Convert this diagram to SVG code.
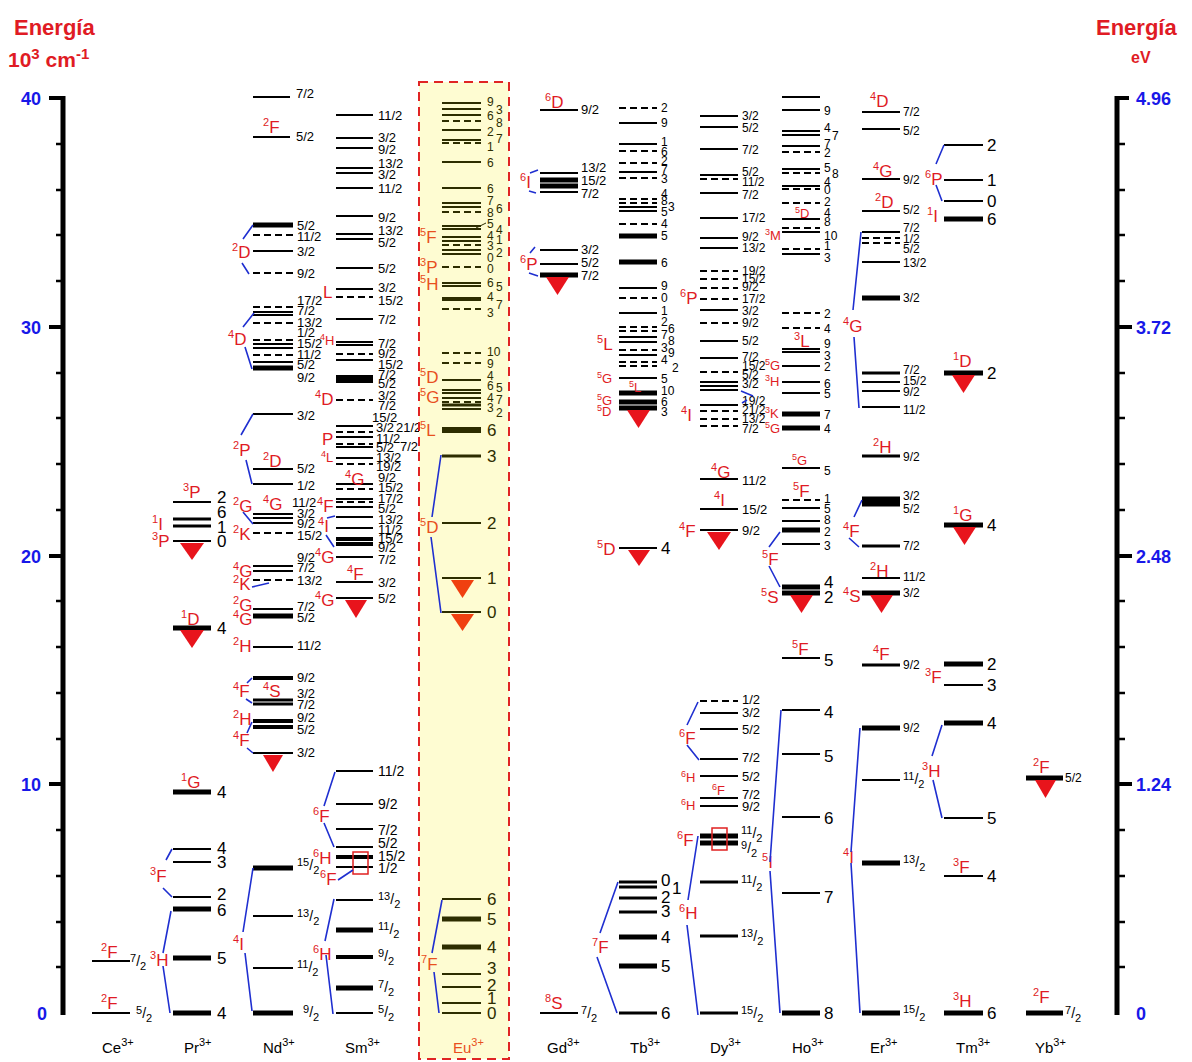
<svg xmlns="http://www.w3.org/2000/svg" width="1192" height="1062" viewBox="0 0 1192 1062">
<style>
text{font-family:"Liberation Sans",Arial,sans-serif;fill:#000}
.k{stroke:#000;stroke-width:2;fill:none}
.k3{stroke:#000;stroke-width:3;fill:none}
.k4{stroke:#000;stroke-width:4;fill:none}
.k5{stroke:#000;stroke-width:5;fill:none}
.kd{stroke:#000;stroke-width:2;stroke-dasharray:7 4;fill:none}
.e{stroke:#2d2d00}
.b{stroke:#1f2fd0;stroke-width:1.6;fill:none}
text.r,.r{fill:#e01b24;font-size:17px}
text.rs{fill:#e01b24;font-size:13px}
text.o{fill:#e8501e;font-size:17px}
.u{font-size:11px}
.us{font-size:9px}
.ui{font-size:11px}
.a{font-size:17px}
.s{font-size:13px}
.s2{font-size:12px}
.x{font-size:12px}
.sf{font-size:14px}
.en text{fill:#2d2d00}
.tri{fill:#e8141c}
.trio{fill:#f04010}
.ax text{fill:#1818e8;font-size:18px;font-weight:bold}
text.t{fill:#e01b24;font-weight:bold}
.ion{font-size:15px}
.box{fill:#fefcd2;stroke:#e02424;stroke-width:2;stroke-dasharray:9 6}
.rect{fill:none;stroke:#e02020;stroke-width:1.5}
</style>

<g id="axes">
<text class="t" x="14" y="35" style="font-size:22px">Energía</text>
<text class="t" x="8" y="67" style="font-size:21px">10<tspan style="font-size:15px" dy="-8">3</tspan><tspan dy="8"> cm</tspan><tspan style="font-size:15px" dy="-8">-1</tspan></text>
<text class="t" x="1096" y="35" style="font-size:22px">Energía</text>
<text class="t" x="1131" y="63" style="font-size:16px">eV</text>
<path d="M63 96V1015M1117 96V1015" stroke="#000" stroke-width="5" fill="none"/>
<path d="M49 98H63M49 327H63M49 556H63M49 784H63M1117 98H1129M1117 327H1132M1117 556H1132M1117 784H1132" stroke="#000" stroke-width="4" fill="none"/>
<path d="M56 144H63M56 190H63M56 235H63M56 281H63M56 373H63M56 418H63M56 464H63M56 510H63M56 601H63M56 647H63M56 693H63M56 739H63M56 830H63M56 876H63M56 922H63M56 967H63M1117 144H1125M1117 190H1125M1117 235H1125M1117 281H1125M1117 373H1125M1117 418H1125M1117 464H1125M1117 510H1125M1117 601H1125M1117 647H1125M1117 693H1125M1117 739H1125M1117 830H1125M1117 876H1125M1117 922H1125M1117 967H1125" stroke="#000" stroke-width="2.5" fill="none"/>
<g class="ax">
<text x="41" y="105" text-anchor="end">40</text>
<text x="41" y="334" text-anchor="end">30</text>
<text x="41" y="563" text-anchor="end">20</text>
<text x="41" y="791" text-anchor="end">10</text>
<text x="47" y="1020" text-anchor="end">0</text>
<text x="1136" y="105">4.96</text>
<text x="1136" y="334">3.72</text>
<text x="1136" y="563">2.48</text>
<text x="1136" y="791">1.24</text>
<text x="1136" y="1020">0</text>
</g>
</g>

<g id="Ce">
<path class="k" d="M92 1013h38M92 961h38"/>
<text class="r" x="101" y="1009"><tspan class="u" dy="-7">2</tspan><tspan dy="7">F</tspan></text>
<text class="r" x="101" y="958"><tspan class="u" dy="-7">2</tspan><tspan dy="7">F</tspan></text>
<text class="sf" x="136" y="1018"><tspan class="u" dy="-4">5</tspan><tspan dy="4">/</tspan><tspan class="u" dy="4">2</tspan></text>
<text class="sf" x="130" y="966"><tspan class="u" dy="-4">7</tspan><tspan dy="4">/</tspan><tspan class="u" dy="4">2</tspan></text>
<text class="ion" x="102" y="1053">Ce<tspan class="ui" dy="-7">3+</tspan></text>
</g>

<g id="Pr">
<path class="k5" d="M173 1013h38M173 958h38M173 909h38M173 792h38M173 628h38"/>
<path class="k" d="M173 897h38M173 862h38M173 849h38M173 541h38M173 502h38"/>
<path class="k3" d="M173 526h38M173 519h38"/>
<g class="a"><text x="217" y="1019">4</text><text x="217" y="964">5</text><text x="217" y="916">6</text><text x="217" y="900">2</text><text x="217" y="868">3</text><text x="217" y="854">4</text><text x="217" y="798">4</text><text x="217" y="634">4</text><text x="217" y="547">0</text><text x="217" y="533">1</text><text x="217" y="518">6</text><text x="217" y="503">2</text></g>
<path class="tri" d="M180 630h24l-12 18z"/><path class="tri" d="M180 543h24l-12 17z"/>
<text class="r" x="150" y="966"><tspan class="u" dy="-7">3</tspan><tspan dy="7">H</tspan></text>
<text class="r" x="150" y="882"><tspan class="u" dy="-7">3</tspan><tspan dy="7">F</tspan></text>
<text class="r" x="181" y="788"><tspan class="u" dy="-7">1</tspan><tspan dy="7">G</tspan></text>
<text class="r" x="181" y="625"><tspan class="u" dy="-7">1</tspan><tspan dy="7">D</tspan></text>
<text class="r" x="183" y="498"><tspan class="u" dy="-7">3</tspan><tspan dy="7">P</tspan></text>
<text class="r" x="152" y="530"><tspan class="u" dy="-7">1</tspan><tspan dy="7">I</tspan></text>
<text class="r" x="152" y="547"><tspan class="u" dy="-7">3</tspan><tspan dy="7">P</tspan></text>
<text class="ion" x="184" y="1053">Pr<tspan class="ui" dy="-7">3+</tspan></text>
</g>

<g id="Nd">
<path class="k5" d="M253 1013h40M253 868h40M253 616h40M253 368h40M253 225h40"/>
<path class="k4" d="M253 721h40M253 727h40M253 678h40"/>
<path class="k3" d="M253 700h40M253 704h40"/>
<path class="k" d="M253 968h40M253 916h40M253 753h40M253 647h40M253 609h40M253 571h40M253 566h40M253 523h40M253 518h40M253 514h40M253 484h40M253 469h40M253 414h40M253 362h40M253 344h40M253 348h40M253 312h40M253 315h40M253 251h40M253 137h37M253 97h37"/>
<path class="kd" d="M253 580h40M253 533h40M253 355h40M253 340h40M253 323h40M253 307h40M253 273h40M253 235h40"/>
<g class="s"><text x="296" y="98">7/2</text><text x="296" y="141">5/2</text><text x="297" y="230">5/2</text><text x="297" y="241">11/2</text><text x="297" y="256">3/2</text><text x="297" y="278">9/2</text><text x="297" y="305">17/2</text><text x="297" y="315">7/2</text><text x="297" y="327">13/2</text><text x="297" y="337">1/2</text><text x="297" y="348">15/2</text><text x="297" y="359">11/2</text><text x="297" y="369">5/2</text><text x="297" y="382">9/2</text><text x="297" y="420">3/2</text><text x="297" y="473">5/2</text><text x="297" y="490">1/2</text><text x="292" y="507">11/2</text><text x="297" y="518">3/2</text><text x="297" y="528">9/2</text><text x="297" y="540">15/2</text><text x="297" y="562">9/2</text><text x="297" y="572">7/2</text><text x="297" y="585">13/2</text><text x="297" y="611">7/2</text><text x="297" y="622">5/2</text><text x="297" y="650">11/2</text><text x="297" y="682">9/2</text><text x="297" y="698">3/2</text><text x="297" y="709">7/2</text><text x="297" y="722">9/2</text><text x="297" y="734">5/2</text><text x="297" y="757">3/2</text></g>
<text class="sf" x="297" y="870"><tspan class="u" dy="-4">15</tspan><tspan dy="4">/</tspan><tspan class="u" dy="4">2</tspan></text>
<text class="sf" x="297" y="921"><tspan class="u" dy="-4">13</tspan><tspan dy="4">/</tspan><tspan class="u" dy="4">2</tspan></text>
<text class="sf" x="297" y="972"><tspan class="u" dy="-4">11</tspan><tspan dy="4">/</tspan><tspan class="u" dy="4">2</tspan></text>
<text class="sf" x="303" y="1017"><tspan class="u" dy="-4">9</tspan><tspan dy="4">/</tspan><tspan class="u" dy="4">2</tspan></text>
<path class="tri" d="M263 755h20l-10 17z"/>
<text class="r" x="263" y="133"><tspan class="u" dy="-7">2</tspan><tspan dy="7">F</tspan></text>
<text class="r" x="232" y="258"><tspan class="u" dy="-7">2</tspan><tspan dy="7">D</tspan></text>
<text class="r" x="228" y="345"><tspan class="u" dy="-7">4</tspan><tspan dy="7">D</tspan></text>
<text class="r" x="233" y="456"><tspan class="u" dy="-7">2</tspan><tspan dy="7">P</tspan></text>
<text class="r" x="263" y="467"><tspan class="u" dy="-7">2</tspan><tspan dy="7">D</tspan></text>
<text class="r" x="233" y="512"><tspan class="u" dy="-7">2</tspan><tspan dy="7">G</tspan></text>
<text class="r" x="263" y="510"><tspan class="u" dy="-7">4</tspan><tspan dy="7">G</tspan></text>
<text class="r" x="233" y="540"><tspan class="u" dy="-7">2</tspan><tspan dy="7">K</tspan></text>
<text class="r" x="233" y="577"><tspan class="u" dy="-7">4</tspan><tspan dy="7">G</tspan></text>
<text class="r" x="233" y="590"><tspan class="u" dy="-7">2</tspan><tspan dy="7">K</tspan></text>
<text class="r" x="233" y="611"><tspan class="u" dy="-7">2</tspan><tspan dy="7">G</tspan></text>
<text class="r" x="233" y="625"><tspan class="u" dy="-7">4</tspan><tspan dy="7">G</tspan></text>
<text class="r" x="233" y="652"><tspan class="u" dy="-7">2</tspan><tspan dy="7">H</tspan></text>
<text class="r" x="233" y="697"><tspan class="u" dy="-7">4</tspan><tspan dy="7">F</tspan></text>
<text class="r" x="263" y="697"><tspan class="u" dy="-7">4</tspan><tspan dy="7">S</tspan></text>
<text class="r" x="233" y="725"><tspan class="u" dy="-7">2</tspan><tspan dy="7">H</tspan></text>
<text class="r" x="233" y="746"><tspan class="u" dy="-7">4</tspan><tspan dy="7">F</tspan></text>
<text class="r" x="233" y="950"><tspan class="u" dy="-7">4</tspan><tspan dy="7">I</tspan></text>
<text class="ion" x="263" y="1053">Nd<tspan class="ui" dy="-7">3+</tspan></text>
</g>

<g id="Sm">
<path class="k" d="M336 115h37M336 138h37M336 148h37M336 168h37M336 173h37M336 188h37M336 216h37M336 234h37M336 239h37M336 268h37M336 289h37M336 319h37M336 342h37M336 345h37M336 360h37M336 426h37M336 437h37M336 447h37M336 458h37M336 484h37M336 499h37M336 507h37M336 517h37M336 528h37M336 557h37M336 582h37M336 598h37M336 771h37M336 804h37M336 829h37M336 847h37M336 867h37M336 900h37M336 1013h37"/>
<path class="k4" d="M336 377h37M336 381h37M336 539h37M336 544h37M336 857h37M336 957h37"/>
<path class="k5" d="M336 930h37M336 988h37"/>
<path class="kd" d="M336 297h37M336 354h37M336 400h37M336 432h37M336 444h37M336 464h37M336 489h37M336 502h37"/>
<g class="s"><text x="378" y="120">11/2</text><text x="378" y="142">3/2</text><text x="378" y="154">9/2</text><text x="378" y="168">13/2</text><text x="378" y="179">3/2</text><text x="378" y="193">11/2</text><text x="378" y="222">9/2</text><text x="378" y="235">13/2</text><text x="378" y="247">5/2</text><text x="378" y="273">5/2</text><text x="378" y="292">3/2</text><text x="378" y="305">15/2</text><text x="378" y="324">7/2</text><text x="378" y="348">7/2</text><text x="378" y="358">9/2</text><text x="378" y="369">15/2</text><text x="378" y="379">7/2</text><text x="378" y="388">5/2</text><text x="378" y="400">3/2</text><text x="378" y="410">7/2</text><text x="372" y="422">15/2</text><text x="376" y="432">3/2</text><text x="396" y="432">21/2</text><text x="376" y="443">11/2</text><text x="376" y="452">5/2</text><text x="400" y="451">7/2</text><text x="376" y="462">13/2</text><text x="376" y="471">19/2</text><text x="378" y="482">9/2</text><text x="378" y="492">15/2</text><text x="378" y="503">17/2</text><text x="378" y="513">5/2</text><text x="378" y="524">13/2</text><text x="378" y="534">11/2</text><text x="378" y="543">15/2</text><text x="378" y="552">9/2</text><text x="378" y="564">7/2</text><text x="378" y="587">3/2</text><text x="378" y="603">5/2</text></g>
<g class="sf"><text x="378" y="776">11/2</text><text x="378" y="809">9/2</text><text x="378" y="835">7/2</text><text x="378" y="848">5/2</text><text x="378" y="861">15/2</text><text x="378" y="873">1/2</text></g>
<text class="sf" x="378" y="904"><tspan class="u" dy="-4">13</tspan><tspan dy="4">/</tspan><tspan class="u" dy="4">2</tspan></text>
<text class="sf" x="378" y="934"><tspan class="u" dy="-4">11</tspan><tspan dy="4">/</tspan><tspan class="u" dy="4">2</tspan></text>
<text class="sf" x="378" y="961"><tspan class="u" dy="-4">9</tspan><tspan dy="4">/</tspan><tspan class="u" dy="4">2</tspan></text>
<text class="sf" x="378" y="992"><tspan class="u" dy="-4">7</tspan><tspan dy="4">/</tspan><tspan class="u" dy="4">2</tspan></text>
<text class="sf" x="378" y="1017"><tspan class="u" dy="-4">5</tspan><tspan dy="4">/</tspan><tspan class="u" dy="4">2</tspan></text>
<path class="tri" d="M345 600h22l-11 18z"/>
<rect class="rect" x="353" y="852" width="15" height="22"/>
<text class="r" x="323" y="298">L</text>
<text class="rs" x="320" y="345"><tspan class="us" dy="-5">4</tspan><tspan dy="5">H</tspan></text>
<text class="r" x="315" y="405"><tspan class="u" dy="-7">4</tspan><tspan dy="7">D</tspan></text>
<text class="r" x="322" y="445">P</text>
<text class="rs" x="321" y="462"><tspan class="us" dy="-5">4</tspan><tspan dy="5">L</tspan></text>
<text class="r" x="345" y="485"><tspan class="u" dy="-7">4</tspan><tspan dy="7">G</tspan></text>
<text class="r" x="317" y="512"><tspan class="u" dy="-7">4</tspan><tspan dy="7">F</tspan></text>
<text class="r" x="318" y="532"><tspan class="u" dy="-7">4</tspan><tspan dy="7">I</tspan></text>
<text class="r" x="315" y="563"><tspan class="u" dy="-7">4</tspan><tspan dy="7">G</tspan></text>
<text class="r" x="347" y="580"><tspan class="u" dy="-7">4</tspan><tspan dy="7">F</tspan></text>
<text class="r" x="315" y="606"><tspan class="u" dy="-7">4</tspan><tspan dy="7">G</tspan></text>
<text class="r" x="313" y="822"><tspan class="u" dy="-7">6</tspan><tspan dy="7">F</tspan></text>
<text class="r" x="313" y="864"><tspan class="u" dy="-7">6</tspan><tspan dy="7">H</tspan></text>
<text class="r" x="320" y="885"><tspan class="u" dy="-7">6</tspan><tspan dy="7">F</tspan></text>
<text class="r" x="313" y="960"><tspan class="u" dy="-7">6</tspan><tspan dy="7">H</tspan></text>
<text class="ion" x="345" y="1053">Sm<tspan class="ui" dy="-7">3+</tspan></text>
</g>

<g id="Eu">
<rect class="box" x="419" y="82" width="90" height="977"/>
<path class="k e" d="M442 103h39M442 109h39M442 115h39M442 130h39M442 140h39M442 162h39M442 188h39M442 203h39M442 207h39M442 226h39M442 229h39M442 237h39M442 241h39M442 250h39M442 254h39M442 283h39M442 286h39M442 298h39M442 300h39M442 380h39M442 390h39M442 393h39M442 398h39M442 409h39M442 523h39M442 578h39M442 612h39M442 899h39M442 974h39M442 987h39M442 1003h39M442 1013h39"/>
<path class="k3 e" d="M442 405h39M442 456h39"/>
<path class="k5 e" d="M442 919h39M442 947h39"/>
<path class="k e" style="stroke-width:6" d="M442 430h39"/>
<path class="kd e" d="M442 121h39M442 143h39M442 212h39M442 245h39M442 267h39M442 309h39M442 353h39M442 363h39M442 402h39"/>
<path class="k e" style="stroke-width:1" d="M476 228l10-5"/>
<g class="s2 en"><text x="487" y="106">9</text><text x="496" y="114">3</text><text x="487" y="120">6</text><text x="496" y="127">8</text><text x="487" y="136">2</text><text x="496" y="143">7</text><text x="487" y="151">1</text><text x="487" y="167">6</text><text x="487" y="193">6</text><text x="487" y="205">7</text><text x="496" y="213">6</text><text x="487" y="217">8</text><text x="487" y="228">5</text><text x="496" y="234">4</text><text x="487" y="240">4</text><text x="496" y="244">1</text><text x="487" y="250">3</text><text x="496" y="257">2</text><text x="487" y="262">0</text><text x="487" y="273">0</text><text x="487" y="287">6</text><text x="496" y="291">5</text><text x="487" y="301">4</text><text x="496" y="309">7</text><text x="487" y="317">3</text><text x="487" y="356">10</text><text x="487" y="368">9</text><text x="487" y="380">4</text><text x="487" y="390">6</text><text x="496" y="392">5</text><text x="487" y="402">4</text><text x="496" y="404">7</text><text x="487" y="412">3</text><text x="496" y="417">2</text></g>
<g class="a en"><text x="487" y="436">6</text><text x="487" y="462">3</text><text x="487" y="529">2</text><text x="487" y="584">1</text><text x="487" y="618">0</text><text x="487" y="905">6</text><text x="487" y="925">5</text><text x="487" y="953">4</text><text x="487" y="974">3</text><text x="487" y="991">2</text><text x="487" y="1004">1</text><text x="487" y="1019">0</text></g>
<path class="trio" d="M451 580h23l-11.5 18z"/><path class="trio" d="M451 614h23l-11.5 17z"/>
<text class="o" x="420" y="243"><tspan class="u" dy="-7">5</tspan><tspan dy="7">F</tspan></text>
<text class="o" x="420" y="273"><tspan class="u" dy="-7">3</tspan><tspan dy="7">P</tspan></text>
<text class="o" x="420" y="290"><tspan class="u" dy="-7">5</tspan><tspan dy="7">H</tspan></text>
<text class="o" x="420" y="383"><tspan class="u" dy="-7">5</tspan><tspan dy="7">D</tspan></text>
<text class="o" x="420" y="403"><tspan class="u" dy="-7">5</tspan><tspan dy="7">G</tspan></text>
<text class="o" x="420" y="436"><tspan class="u" dy="-7">5</tspan><tspan dy="7">L</tspan></text>
<text class="o" x="420" y="533"><tspan class="u" dy="-7">5</tspan><tspan dy="7">D</tspan></text>
<text class="o" x="421" y="970"><tspan class="u" dy="-7">7</tspan><tspan dy="7">F</tspan></text>
<text class="ion" x="453" y="1053" style="fill:#e8501e">Eu<tspan class="ui" dy="-7">3+</tspan></text>
</g>

<g id="Gd">
<path class="k" d="M540 1013h38M540 110h38M540 173h38M540 192h38M540 250h38M540 264h38"/>
<path class="k5" d="M540 180h38M540 186h38M540 275h38"/>
<g class="s"><text x="581" y="114">9/2</text><text x="581" y="172">13/2</text><text x="581" y="185">15/2</text><text x="581" y="198">7/2</text><text x="581" y="254">3/2</text><text x="581" y="267">5/2</text><text x="581" y="280">7/2</text></g>
<text class="sf" x="581" y="1018"><tspan class="u" dy="-4">7</tspan><tspan dy="4">/</tspan><tspan class="u" dy="4">2</tspan></text>
<path class="tri" d="M546 277h23l-11.5 18z"/>
<text class="r" x="545" y="108"><tspan class="u" dy="-7">6</tspan><tspan dy="7">D</tspan></text>
<text class="r" x="520" y="188"><tspan class="u" dy="-7">6</tspan><tspan dy="7">I</tspan></text>
<text class="r" x="520" y="270"><tspan class="u" dy="-7">6</tspan><tspan dy="7">P</tspan></text>
<text class="r" x="545" y="1009"><tspan class="u" dy="-7">8</tspan><tspan dy="7">S</tspan></text>
<text class="ion" x="547" y="1053">Gd<tspan class="ui" dy="-7">3+</tspan></text>
</g>

<g id="Tb">
<path class="k" d="M619 123h38M619 144h38M619 172h38M619 207h38M619 211h38M619 288h38M619 313h38M619 337h38M619 342h38M619 355h38M619 378h38M619 548h38"/>
<path class="k3" d="M619 882h38M619 887h38M619 898h38M619 912h38M619 1013h38"/>
<path class="k5" d="M619 236h38M619 262h38M619 393h38M619 402h38M619 408h38M619 937h38M619 966h38"/>
<path class="kd" d="M619 108h38M619 151h38M619 163h38M619 178h38M619 199h38M619 203h38M619 224h38M619 298h38M619 327h38M619 331h38M619 350h38M619 362h38M619 366h38"/>
<g class="s2"><text x="661" y="112">2</text><text x="661" y="127">9</text><text x="661" y="146">1</text><text x="661" y="156">6</text><text x="661" y="165">2</text><text x="661" y="174">7</text><text x="661" y="183">3</text><text x="661" y="198">4</text><text x="661" y="205">8</text><text x="668" y="211">3</text><text x="661" y="216">5</text><text x="661" y="228">4</text><text x="661" y="240">5</text><text x="661" y="267">6</text><text x="661" y="290">9</text><text x="661" y="302">0</text><text x="661" y="315">1</text><text x="661" y="326">2</text><text x="668" y="333">6</text><text x="661" y="339">7</text><text x="668" y="345">8</text><text x="661" y="352">3</text><text x="668" y="357">9</text><text x="661" y="364">4</text><text x="672" y="372">2</text><text x="661" y="383">5</text><text x="661" y="395">10</text><text x="661" y="406">6</text><text x="661" y="416">3</text></g>
<g class="a"><text x="661" y="554">4</text><text x="661" y="886">0</text><text x="672" y="894">1</text><text x="661" y="903">2</text><text x="661" y="917">3</text><text x="661" y="943">4</text><text x="661" y="972">5</text><text x="661" y="1019">6</text></g>
<path class="tri" d="M627 410h23l-11.5 18z"/><path class="tri" d="M628 550h22l-11 16z"/>
<text class="r" x="597" y="350"><tspan class="u" dy="-7">5</tspan><tspan dy="7">L</tspan></text>
<text class="rs" x="597" y="383"><tspan class="us" dy="-5">5</tspan><tspan dy="5">G</tspan></text>
<text class="rs" x="629" y="392"><tspan class="us" dy="-5">5</tspan><tspan dy="5">L</tspan></text>
<text class="rs" x="597" y="405"><tspan class="us" dy="-5">5</tspan><tspan dy="5">G</tspan></text>
<text class="rs" x="597" y="416"><tspan class="us" dy="-5">5</tspan><tspan dy="5">D</tspan></text>
<text class="r" x="597" y="555"><tspan class="u" dy="-7">5</tspan><tspan dy="7">D</tspan></text>
<text class="r" x="592" y="953"><tspan class="u" dy="-7">7</tspan><tspan dy="7">F</tspan></text>
<text class="ion" x="630" y="1053">Tb<tspan class="ui" dy="-7">3+</tspan></text>
</g>

<g id="Dy">
<path class="k" d="M700 116h38M700 127h38M700 149h38M700 175h38M700 193h38M700 218h38M700 238h38M700 248h38M700 310h38M700 341h38M700 358h38M700 382h38M700 386h38M700 390h38M700 405h38M700 479h38M700 509h38M700 530h38M700 713h38M700 729h38M700 759h38M700 776h38M700 798h38M700 806h38"/>
<path class="k5" d="M700 836h38M700 843h38"/>
<path class="k3" d="M700 882h38M700 936h38M700 1013h38"/>
<path class="kd" d="M700 179h38M700 271h38M700 279h38M700 288h38M700 299h38M700 323h38M700 372h38M700 411h38M700 419h38M700 426h38M700 701h38"/>
<g class="x"><text x="742" y="120">3/2</text><text x="742" y="132">5/2</text><text x="742" y="154">7/2</text><text x="742" y="176">5/2</text><text x="742" y="186">11/2</text><text x="742" y="199">7/2</text><text x="742" y="222">17/2</text><text x="742" y="241">9/2</text><text x="742" y="252">13/2</text><text x="742" y="275">19/2</text><text x="742" y="283">15/2</text><text x="742" y="291">9/2</text><text x="742" y="303">17/2</text><text x="742" y="315">3/2</text><text x="742" y="327">9/2</text><text x="742" y="345">5/2</text><text x="742" y="361">7/2</text><text x="742" y="370">15/2</text><text x="742" y="379">5/2</text><text x="742" y="388">3/2</text><text x="742" y="405">19/2</text><text x="742" y="414">21/2</text><text x="742" y="423">13/2</text><text x="742" y="433">7/2</text></g>
<g class="s"><text x="742" y="485">11/2</text><text x="742" y="514">15/2</text><text x="742" y="535">9/2</text><text x="742" y="704">1/2</text><text x="742" y="717">3/2</text><text x="742" y="734">5/2</text><text x="742" y="762">7/2</text><text x="742" y="781">5/2</text><text x="742" y="799">7/2</text><text x="742" y="811">9/2</text></g>
<text class="sf" x="741" y="838"><tspan class="u" dy="-4">11</tspan><tspan dy="4">/</tspan><tspan class="u" dy="4">2</tspan></text>
<text class="sf" x="741" y="853"><tspan class="u" dy="-4">9</tspan><tspan dy="4">/</tspan><tspan class="u" dy="4">2</tspan></text>
<text class="sf" x="741" y="887"><tspan class="u" dy="-4">11</tspan><tspan dy="4">/</tspan><tspan class="u" dy="4">2</tspan></text>
<text class="sf" x="741" y="941"><tspan class="u" dy="-4">13</tspan><tspan dy="4">/</tspan><tspan class="u" dy="4">2</tspan></text>
<text class="sf" x="741" y="1018"><tspan class="u" dy="-4">15</tspan><tspan dy="4">/</tspan><tspan class="u" dy="4">2</tspan></text>
<path class="tri" d="M707 532h24l-12 18z"/>
<rect class="rect" x="712" y="828" width="15" height="22"/>
<text class="r" x="680" y="304"><tspan class="u" dy="-7">6</tspan><tspan dy="7">P</tspan></text>
<text class="r" x="681" y="421"><tspan class="u" dy="-7">4</tspan><tspan dy="7">I</tspan></text>
<text class="r" x="711" y="478"><tspan class="u" dy="-7">4</tspan><tspan dy="7">G</tspan></text>
<text class="r" x="714" y="506"><tspan class="u" dy="-7">4</tspan><tspan dy="7">I</tspan></text>
<text class="r" x="679" y="537"><tspan class="u" dy="-7">4</tspan><tspan dy="7">F</tspan></text>
<text class="r" x="679" y="744"><tspan class="u" dy="-7">6</tspan><tspan dy="7">F</tspan></text>
<text class="rs" x="681" y="782"><tspan class="us" dy="-5">6</tspan><tspan dy="5">H</tspan></text>
<text class="rs" x="712" y="795"><tspan class="us" dy="-5">6</tspan><tspan dy="5">F</tspan></text>
<text class="rs" x="681" y="810"><tspan class="us" dy="-5">6</tspan><tspan dy="5">H</tspan></text>
<text class="r" x="677" y="846"><tspan class="u" dy="-7">6</tspan><tspan dy="7">F</tspan></text>
<text class="r" x="679" y="919"><tspan class="u" dy="-7">6</tspan><tspan dy="7">H</tspan></text>
<text class="ion" x="710" y="1053">Dy<tspan class="ui" dy="-7">3+</tspan></text>
</g>

<g id="Ho">
<path class="k" d="M782 97h38M782 110h38M782 131h38M782 135h38M782 146h38M782 169h38M782 186h38M782 219h38M782 232h38M782 254h38M782 349h38M782 352h38M782 366h38M782 382h38M782 393h38M782 468h38M782 508h38M782 521h38M782 544h38M782 658h38M782 710h38M782 754h38M782 817h38M782 893h38"/>
<path class="k5" d="M782 414h38M782 428h38M782 530h38M782 587h38M782 593h38M782 1013h38"/>
<path class="kd" d="M782 152h38M782 173h38M782 189h38M782 203h38M782 228h38M782 249h38M782 313h38M782 328h38M782 500h38"/>
<g class="s2"><text x="824" y="115">9</text><text x="824" y="132">4</text><text x="832" y="140">7</text><text x="824" y="148">7</text><text x="824" y="157">2</text><text x="824" y="172">5</text><text x="832" y="178">8</text><text x="824" y="186">4</text><text x="824" y="194">0</text><text x="824" y="206">2</text><text x="824" y="217">4</text><text x="824" y="226">8</text><text x="824" y="240">10</text><text x="824" y="250">1</text><text x="824" y="262">3</text><text x="824" y="318">2</text><text x="824" y="333">4</text><text x="824" y="348">9</text><text x="824" y="360">3</text><text x="824" y="371">2</text><text x="824" y="388">6</text><text x="824" y="398">5</text><text x="824" y="419">7</text><text x="824" y="433">4</text><text x="824" y="475">5</text><text x="824" y="503">1</text><text x="824" y="513">5</text><text x="824" y="524">8</text><text x="824" y="536">2</text><text x="824" y="550">3</text></g>
<g class="a"><text x="824" y="588">4</text><text x="824" y="603">2</text><text x="824" y="666">5</text><text x="824" y="718">4</text><text x="824" y="762">5</text><text x="824" y="824">6</text><text x="824" y="903">7</text><text x="824" y="1019">8</text></g>
<path class="tri" d="M790 595h23l-11.5 18z"/>
<text class="rs" x="795" y="218"><tspan class="us" dy="-5">5</tspan><tspan dy="5">D</tspan></text>
<text class="rs" x="765" y="240"><tspan class="us" dy="-5">3</tspan><tspan dy="5">M</tspan></text>
<text class="r" x="794" y="347"><tspan class="u" dy="-7">3</tspan><tspan dy="7">L</tspan></text>
<text class="rs" x="765" y="370"><tspan class="us" dy="-5">5</tspan><tspan dy="5">G</tspan></text>
<text class="rs" x="765" y="386"><tspan class="us" dy="-5">3</tspan><tspan dy="5">H</tspan></text>
<text class="rs" x="765" y="418"><tspan class="us" dy="-5">3</tspan><tspan dy="5">K</tspan></text>
<text class="rs" x="765" y="433"><tspan class="us" dy="-5">5</tspan><tspan dy="5">G</tspan></text>
<text class="rs" x="792" y="465"><tspan class="us" dy="-5">5</tspan><tspan dy="5">G</tspan></text>
<text class="r" x="793" y="497"><tspan class="u" dy="-7">5</tspan><tspan dy="7">F</tspan></text>
<text class="r" x="762" y="565"><tspan class="u" dy="-7">5</tspan><tspan dy="7">F</tspan></text>
<text class="r" x="761" y="603"><tspan class="u" dy="-7">5</tspan><tspan dy="7">S</tspan></text>
<text class="r" x="792" y="655"><tspan class="u" dy="-7">5</tspan><tspan dy="7">F</tspan></text>
<text class="r" x="762" y="868"><tspan class="u" dy="-7">5</tspan><tspan dy="7">I</tspan></text>
<text class="ion" x="792" y="1053">Ho<tspan class="ui" dy="-7">3+</tspan></text>
</g>

<g id="Er">
<path class="k" d="M862 112h38M862 129h38M862 179h38M862 211h38M862 232h38M862 262h38M862 382h38M862 391h38M862 407h38M862 578h38M862 780h38"/>
<path class="k3" d="M862 373h38M862 456h38M862 546h38M862 665h38"/>
<path class="k5" d="M862 298h38M862 499h38M862 504h38M862 593h38M862 728h38M862 863h38M862 1013h38"/>
<path class="kd" d="M862 238h38M862 243h38"/>
<g class="x"><text x="903" y="116">7/2</text><text x="903" y="135">5/2</text><text x="903" y="184">9/2</text><text x="903" y="214">5/2</text><text x="903" y="232">7/2</text><text x="903" y="243">1/2</text><text x="903" y="253">5/2</text><text x="903" y="267">13/2</text><text x="903" y="302">3/2</text><text x="903" y="374">7/2</text><text x="903" y="385">15/2</text><text x="903" y="396">9/2</text><text x="903" y="414">11/2</text><text x="903" y="461">9/2</text><text x="903" y="500">3/2</text><text x="903" y="513">5/2</text><text x="903" y="550">7/2</text><text x="903" y="581">11/2</text><text x="903" y="597">3/2</text><text x="903" y="669">9/2</text><text x="903" y="732">9/2</text></g>
<text class="sf" x="903" y="784"><tspan class="u" dy="-4">11</tspan><tspan dy="4">/</tspan><tspan class="u" dy="4">2</tspan></text>
<text class="sf" x="903" y="867"><tspan class="u" dy="-4">13</tspan><tspan dy="4">/</tspan><tspan class="u" dy="4">2</tspan></text>
<text class="sf" x="903" y="1017"><tspan class="u" dy="-4">15</tspan><tspan dy="4">/</tspan><tspan class="u" dy="4">2</tspan></text>
<path class="tri" d="M870 595h23l-11.5 18z"/>
<text class="r" x="870" y="107"><tspan class="u" dy="-7">4</tspan><tspan dy="7">D</tspan></text>
<text class="r" x="873" y="177"><tspan class="u" dy="-7">4</tspan><tspan dy="7">G</tspan></text>
<text class="r" x="875" y="208"><tspan class="u" dy="-7">2</tspan><tspan dy="7">D</tspan></text>
<text class="r" x="843" y="332"><tspan class="u" dy="-7">4</tspan><tspan dy="7">G</tspan></text>
<text class="r" x="873" y="453"><tspan class="u" dy="-7">2</tspan><tspan dy="7">H</tspan></text>
<text class="r" x="843" y="537"><tspan class="u" dy="-7">4</tspan><tspan dy="7">F</tspan></text>
<text class="r" x="870" y="577"><tspan class="u" dy="-7">2</tspan><tspan dy="7">H</tspan></text>
<text class="r" x="843" y="602"><tspan class="u" dy="-7">4</tspan><tspan dy="7">S</tspan></text>
<text class="r" x="873" y="660"><tspan class="u" dy="-7">4</tspan><tspan dy="7">F</tspan></text>
<text class="r" x="843" y="863"><tspan class="u" dy="-7">4</tspan><tspan dy="7">I</tspan></text>
<text class="ion" x="870" y="1053">Er<tspan class="ui" dy="-7">3+</tspan></text>
</g>

<g id="Tm">
<path class="k" d="M944 145h39M944 180h39M944 201h39M944 685h39M944 818h39M944 876h39"/>
<path class="k5" d="M944 219h39M944 373h39M944 525h39M944 664h39M944 723h39M944 1013h39"/>
<g class="a"><text x="987" y="151">2</text><text x="987" y="186">1</text><text x="987" y="207">0</text><text x="987" y="225">6</text><text x="987" y="379">2</text><text x="987" y="531">4</text><text x="987" y="670">2</text><text x="987" y="691">3</text><text x="987" y="729">4</text><text x="987" y="824">5</text><text x="987" y="882">4</text><text x="987" y="1019">6</text></g>
<path class="tri" d="M952 375h23l-11.5 18z"/><path class="tri" d="M953 527h23l-11.5 18z"/>
<text class="r" x="925" y="185"><tspan class="u" dy="-7">6</tspan><tspan dy="7">P</tspan></text>
<text class="r" x="927" y="222"><tspan class="u" dy="-7">1</tspan><tspan dy="7">I</tspan></text>
<text class="r" x="953" y="367"><tspan class="u" dy="-7">1</tspan><tspan dy="7">D</tspan></text>
<text class="r" x="953" y="521"><tspan class="u" dy="-7">1</tspan><tspan dy="7">G</tspan></text>
<text class="r" x="925" y="683"><tspan class="u" dy="-7">3</tspan><tspan dy="7">F</tspan></text>
<text class="r" x="922" y="777"><tspan class="u" dy="-7">3</tspan><tspan dy="7">H</tspan></text>
<text class="r" x="953" y="873"><tspan class="u" dy="-7">3</tspan><tspan dy="7">F</tspan></text>
<text class="r" x="953" y="1007"><tspan class="u" dy="-7">3</tspan><tspan dy="7">H</tspan></text>
<text class="ion" x="956" y="1053">Tm<tspan class="ui" dy="-7">3+</tspan></text>
</g>

<g id="Yb">
<path class="k5" d="M1026 778h37M1026 1013h37"/>
<path class="tri" d="M1035 780h21l-10.5 18z"/>
<text class="x" x="1065" y="782">5/2</text>
<text class="sf" x="1065" y="1018"><tspan class="u" dy="-4">7</tspan><tspan dy="4">/</tspan><tspan class="u" dy="4">2</tspan></text>
<text class="r" x="1033" y="773"><tspan class="u" dy="-7">2</tspan><tspan dy="7">F</tspan></text>
<text class="r" x="1033" y="1003"><tspan class="u" dy="-7">2</tspan><tspan dy="7">F</tspan></text>
<text class="ion" x="1035" y="1053">Yb<tspan class="ui" dy="-7">3+</tspan></text>
</g>

<g id="connectors">
<path class="b" d="M170 1013L163 966M163 953L171 911M172 849L166 860M163 888L172 897"/>
<path class="b" d="M253 225L243 239M242 263L249 274M254 313L243 327M245 347L252 369M253 414L241 435M246 460L252 484M243 512L253 524M252 587L269 583M247 683L252 678M246 699L252 703M247 733L252 722M247 748L253 753M253 868L243 932M245 953L252 1011"/>
<path class="b" d="M335 772L324 806M324 823L334 847M353 870L338 880M334 899L325 941M326 955L333 1014M327 518L335 516M326 535L334 547"/>
<path class="b" d="M441 455L432 517M431 537L441 613M442 900L432 953M434 972L439 1013"/>
<path class="b" d="M530 173L538 170M529 191L536 193M530 253L535 247M529 273L538 276"/>
<path class="b" d="M618 882L600 933M597 957L617 1013"/>
<path class="b" d="M698 702L687 725M687 745L699 760M698 836L688 900M687 925L698 1015M741 391L753 396M742 403L747 400"/>
<path class="b" d="M781 710L770 862M770 871L780 1013M780 532L769 547M769 566L780 587"/>
<path class="b" d="M861 232L853 310M854 337L859 408M862 500L854 517M849 538L859 547M860 728L851 852M851 863L860 1013"/>
<path class="b" d="M944 145L936 164M936 185L942 201M942 725L932 756M933 780L942 818"/>
</g>
</svg>
